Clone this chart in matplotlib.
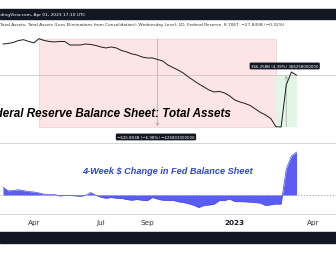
import matplotlib
matplotlib.use("Agg")
import matplotlib.pyplot as plt
from matplotlib.patches import Rectangle
import numpy as np

# weekly Wednesday levels, first bar = 2022-02-23 (trillions USD)
total_assets = [
    8.929, 8.933, 8.940, 8.954, 8.960, 8.947, 8.937, 8.967, 8.954, 8.947,
    8.944, 8.947, 8.947, 8.922, 8.922, 8.922, 8.929, 8.926, 8.919, 8.908,
    8.901, 8.908, 8.901, 8.883, 8.873, 8.859, 8.851, 8.837, 8.830, 8.830,
    8.819, 8.809, 8.780, 8.762, 8.744, 8.723, 8.695, 8.670, 8.645, 8.624,
    8.602, 8.588, 8.592, 8.581, 8.560, 8.531, 8.517, 8.506, 8.492, 8.467,
    8.442, 8.424, 8.399, 8.341, 8.339, 8.638, 8.730, 8.707,
]
# 4-week $ change (billions USD)
change_4w = [
    65, 35, 38, 44, 36, 29, 25, 17, 6, 4,
    4, -8, -3, -3, -7, -11, -3, 21, -2, -19,
    -27, -21, -27, -28, -38, -44, -38, -44, -48, -21,
    -34, -44, -46, -45, -57, -63, -73, -86, -105, -88,
    -84, -77, -46, -47, -34, -56, -56, -57, -60, -64,
    -68, -89, -82, -76, -76, 218, 328, 361,
]
tick_pos = [6, 19, 28, 45, 60.2]
tick_labels = ["Apr", "Jul", "Sep", "2023", "Apr"]

drop_bars = (7, 53)
rise_bars = (53, 57)
drop_label = "\u2212625.803B (\u22126.98%) \u2212625803000000"
rise_label = "366.258B (4.39%) 366258000000"

DARK = "#131722"
W, H = 336, 255

x = np.arange(len(total_assets))
ta = np.array(total_assets)
ch = np.array(change_4w)

fig = plt.figure(figsize=(W / 100, H / 100), dpi=100)
fig.patch.set_facecolor("white")

def fy(px):
    return 1 - px / H

# header / footer bars
fig.patches.append(Rectangle((0, fy(19.5)), 1, 9.5 / H, transform=fig.transFigure,
                             color=DARK, zorder=0))
fig.patches.append(Rectangle((0, fy(244)), 1, 11 / H, transform=fig.transFigure,
                             color=DARK, zorder=0))

xlim = (-3 / 5.15, (W - 3) / 5.15)

# ---- top pane
ax1 = fig.add_axes([0, fy(144), 1, 124 / H])
ax1.set_xlim(*xlim)
ax1.set_ylim(8.225, 9.107)
for s in ax1.spines.values():
    s.set_visible(False)
ax1.set_xticks([])
ax1.set_yticks([])

a, b = drop_bars
ax1.add_patch(Rectangle((a, ta[b]), b - a, ta[a] - ta[b], facecolor="#fde4e7",
                        edgecolor="#f1d3d7", linewidth=0.6, zorder=1))
c, d = rise_bars
ax1.add_patch(Rectangle((c, ta[c]), d - c, ta[d] - ta[c], facecolor="#e2f5e6",
                        edgecolor="none", zorder=1))
ax1.axhline(ta[-1], color="#c8c8c8", linewidth=0.6, zorder=2)
ax1.annotate("", xy=((a + b) / 2, ta[b]), xytext=((a + b) / 2, ta[a]),
             arrowprops=dict(arrowstyle="->", color="#b9b1b3", lw=0.6,
                             shrinkA=0, shrinkB=0, mutation_scale=5), zorder=2)
ax1.annotate("", xy=((c + d) / 2, ta[d]), xytext=((c + d) / 2, ta[c]),
             arrowprops=dict(arrowstyle="->", color="#a8b8aa", lw=0.6,
                             shrinkA=0, shrinkB=0, mutation_scale=5), zorder=2)
ax1.plot(x, ta, color="#1c1c1c", linewidth=0.7, zorder=3)

ax1.text((c + d) / 2 - 0.3, 8.773, rise_label, fontsize=2.9, color="white",
         ha="center", va="center", zorder=5,
         bbox=dict(boxstyle="round,pad=0.35,rounding_size=0.3", fc=DARK, ec="none"))
ax1.text((a + b) / 2 - 0.3, 8.268, drop_label, fontsize=2.9, color="white",
         ha="center", va="center", zorder=5, clip_on=False,
         bbox=dict(boxstyle="round,pad=0.35,rounding_size=0.3", fc=DARK, ec="none"))

# ---- bottom pane
ax2 = fig.add_axes([0, fy(215), 1, 71 / H])
ax2.set_xlim(*xlim)
ax2.set_ylim(-160, 437)
ax2.axhline(0, color="#9a9a9a", linewidth=0.6, linestyle=(0, (1.5, 2)), zorder=1)
ax2.fill_between(x, 0, ch, color="#5b5cf4", linewidth=0, zorder=2)
ax2.plot(x, ch, color="#4d4ff0", linewidth=0.5, zorder=3)
for side in ("left", "right"):
    ax2.spines[side].set_visible(False)
for side in ("top", "bottom"):
    ax2.spines[side].set_color("#d4d6dc")
    ax2.spines[side].set_linewidth(0.7)
ax2.set_yticks([])
ax2.set_xticks(tick_pos)
ax2.set_xticklabels(tick_labels, fontsize=5.2, color="#333333")
ax2.tick_params(axis="x", length=0, pad=3.6)
for lbl in ax2.get_xticklabels():
    if lbl.get_text().isdigit():
        lbl.set_fontweight("bold")
        lbl.set_color("#131722")

# ---- texts
fig.text(85 / W, fy(14.8), "TradingView.com, Apr 01, 2023 17:10 UTC", fontsize=3.15,
         color="white", ha="right", va="center")
fig.text(0.5 / W, fy(25), "Total Assets: Total Assets (Less Eliminations from Consolidation): "
         "Wednesday Level, 1D, Federal Reserve  8.706T  \u221227.845B (\u22120.32%)",
         fontsize=3.05, color="#333333", ha="left", va="center")
fig.text(231 / W, fy(114), "Federal Reserve Balance Sheet: Total Assets",
         fontsize=8.35, fontweight="bold", fontstyle="italic", family="Liberation Sans",
         color="black", ha="right", va="center")
fig.text(167.5 / W, fy(172), "4-Week $ Change in Fed Balance Sheet",
         fontsize=6.6, fontweight="bold", fontstyle="italic", family="Liberation Sans",
         color="#2d45d2", ha="center", va="center")

fig.savefig("out.png", dpi=100)
